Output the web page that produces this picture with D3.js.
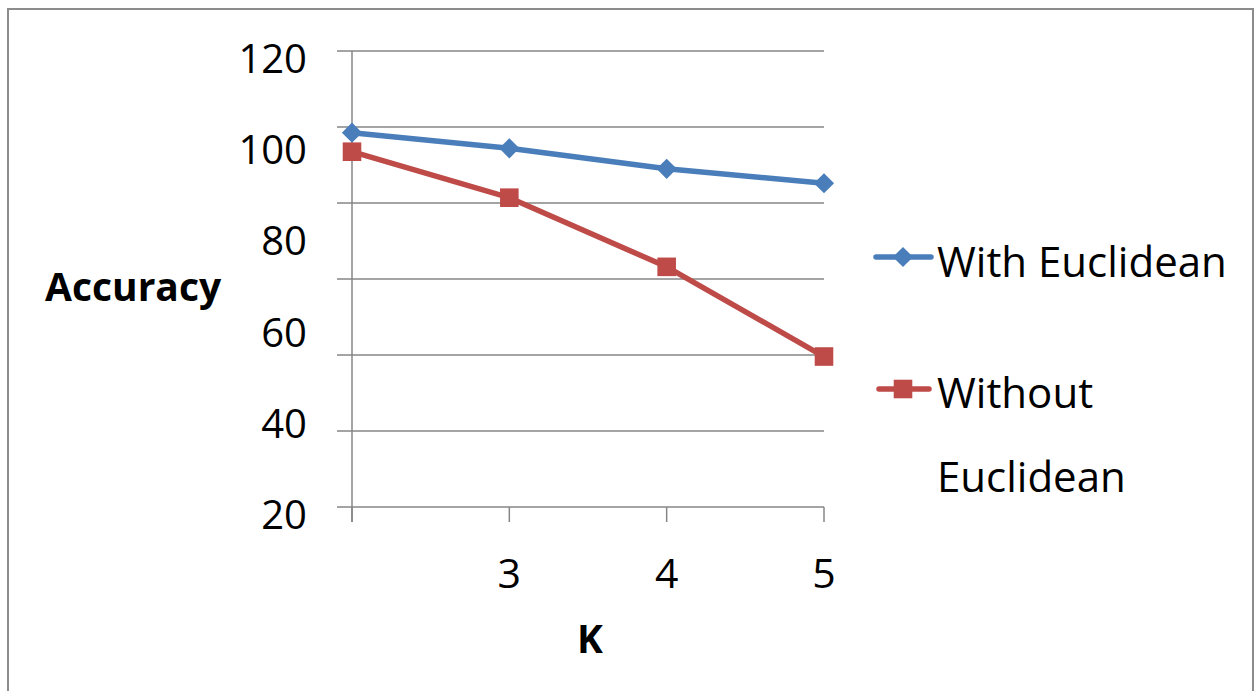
<!DOCTYPE html>
<html>
<head>
<meta charset="utf-8">
<script src="https://cdn.jsdelivr.net/npm/d3@7"></script>
<style>
  body { margin: 0; background: #fff; }
  svg text { font-family: "Open Sans", sans-serif; fill: #000; }
</style>
</head>
<body>
<svg class="chart" width="1256" height="691"></svg>
<script>
//Chart data
var categories = ["2", "3", "4", "5"];
var tickLabels = ["", "3", "4", "5"];
var withEuclidean = [98.5, 94.4, 89.0, 85.2];
var withoutEuclidean = [93.5, 81.4, 63.2, 39.6];
var gridValues = [20, 40, 60, 80, 100, 120];
var yLabels = [120, 100, 80, 60, 40, 20];
var seriesNames = ["With Euclidean", "Without Euclidean"];
var seriesColors = ["#4a7ebb", "#be4b48"];

var svg = d3.select(".chart");

//Outer frame (no bottom edge, as in the picture)
svg.append("path")
    .attr("d", "M8,691 V9 H1253 V691")
    .attr("fill", "none")
    .attr("stroke", "#8c8c8c")
    .attr("stroke-width", 2);

//Scales
var x = d3.scalePoint().domain(categories).range([352, 824]).padding(0);
var y = d3.scaleLinear().domain([0, 120]).range([507, 51]);
//The value labels sit on their own spacing in the original
var yText = d3.scaleLinear().domain([20, 120]).range([515, 59]);

//Gridlines
svg.append("g").selectAll("line")
    .data(gridValues)
    .join("line")
    .attr("x1", 337).attr("x2", x.range()[1])
    .attr("y1", d => y(d)).attr("y2", d => y(d))
    .attr("stroke", "#868686")
    .attr("stroke-width", 1.5);

//X axis line and ticks
svg.append("line")
    .attr("x1", 337).attr("x2", x.range()[1])
    .attr("y1", y(0)).attr("y2", y(0))
    .attr("stroke", "#868686").attr("stroke-width", 1.5);
svg.append("g").selectAll("line")
    .data(categories)
    .join("line")
    .attr("x1", d => x(d)).attr("x2", d => x(d))
    .attr("y1", y(0)).attr("y2", y(0) + 15)
    .attr("stroke", "#868686").attr("stroke-width", 1.5);

//Y axis line
svg.append("line")
    .attr("x1", x(categories[0])).attr("x2", x(categories[0]))
    .attr("y1", y(120)).attr("y2", y(0) + 15)
    .attr("stroke", "#868686").attr("stroke-width", 1.5);

//Y labels
svg.append("g").selectAll("text")
    .data(yLabels)
    .join("text")
    .attr("x", 307)
    .attr("y", d => yText(d))
    .attr("dy", "0.35em")
    .attr("text-anchor", "end")
    .style("font-size", "40px")
    .text(d => d);

//X labels
svg.append("g").selectAll("text")
    .data(categories)
    .join("text")
    .attr("x", d => x(d))
    .attr("y", 588)
    .attr("text-anchor", "middle")
    .style("font-size", "41px")
    .text((d, i) => tickLabels[i]);

//Axis titles
svg.append("text")
    .attr("x", 590).attr("y", 653)
    .attr("text-anchor", "middle")
    .style("font-size", "39px").style("font-weight", "bold")
    .text("K");
svg.append("text")
    .attr("x", 45).attr("y", 301)
    .style("font-size", "39px").style("font-weight", "bold")
    .text("Accuracy");

//Lines
var line = d3.line()
    .x((d, i) => x(categories[i]))
    .y(d => y(d));

var diamond = d3.symbol().type(d3.symbolDiamond2).size(260);
var square = d3.symbol().type(d3.symbolSquare2).size(440);

[withEuclidean, withoutEuclidean].forEach(function(values, s){
    svg.append("path")
        .datum(values)
        .attr("d", line)
        .attr("fill", "none")
        .attr("stroke", seriesColors[s])
        .attr("stroke-width", 5.5)
        .attr("stroke-linejoin", "round");

    svg.append("g").selectAll("path")
        .data(values)
        .join("path")
        .attr("transform", (d, i) => "translate(" + x(categories[i]) + "," + y(d) + ")")
        .attr("d", s === 0 ? diamond : square)
        .attr("fill", seriesColors[s]);
});

//Legend
var legendY = [257, 389];
seriesNames.forEach(function(name, s){
    var g = svg.append("g").attr("transform", "translate(903," + legendY[s] + ")");
    g.append("line")
        .attr("x1", s === 0 ? -27 : -24).attr("x2", s === 0 ? 28 : 26)
        .attr("stroke", seriesColors[s])
        .attr("stroke-width", 5.5)
        .attr("stroke-linecap", "round");
    g.append("path")
        .attr("d", s === 0 ? diamond : square)
        .attr("fill", seriesColors[s]);
});
svg.append("text").attr("x", 937).attr("y", 277)
    .style("font-size", "42px").text("With Euclidean");
svg.append("text").attr("x", 937).attr("y", 408)
    .style("font-size", "42px").text("Without");
svg.append("text").attr("x", 937).attr("y", 492)
    .style("font-size", "42px").text("Euclidean");
</script>
</body>
</html>
